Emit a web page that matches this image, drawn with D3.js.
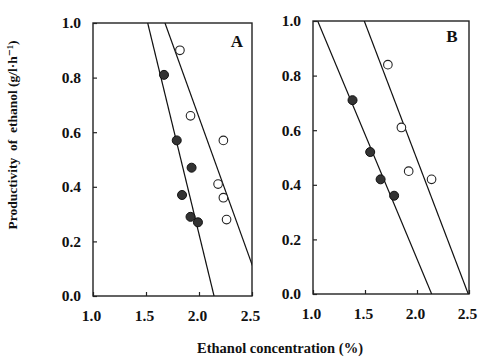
<!DOCTYPE html>
<html>
<head>
<meta charset="utf-8">
<script src="https://cdn.jsdelivr.net/npm/d3@7"></script>
<style>
  body { margin: 0; background: #fff; }
  svg { display: block; }
  text { font-family: "Liberation Serif", "DejaVu Serif", serif; font-weight: bold; fill: #111; }
</style>
</head>
<body>
<div id="chart"></div>
<script>
// tick labels
const xTicks = [1.0, 1.5, 2.0, 2.5];
const yTicks = [0.0, 0.2, 0.4, 0.6, 0.8, 1.0];

// panel A
const aFilledX = [1.67, 1.79, 1.93, 1.84, 1.92, 1.99];
const aFilledY = [0.81, 0.57, 0.47, 0.37, 0.29, 0.27];
const aOpenX = [1.82, 1.92, 2.23, 2.18, 2.23, 2.26];
const aOpenY = [0.90, 0.66, 0.57, 0.41, 0.36, 0.28];
// fitted lines, [x at y=1, x at y=0]
const aFilledLine = [1.516, 2.142];
const aOpenLine = [1.679, 2.607];

// panel B
const bFilledX = [1.38, 1.55, 1.65, 1.78];
const bFilledY = [0.71, 0.52, 0.42, 0.36];
const bOpenX = [1.72, 1.85, 1.92, 2.14];
const bOpenY = [0.84, 0.61, 0.45, 0.42];
const bFilledLine = [1.045, 2.141];
const bOpenLine = [1.493, 2.493];

const width = 485, height = 362;

const svg = d3.select("#chart").append("svg")
    .attr("width", width)
    .attr("height", height);

const panels = [
  { id: "A", left: 93, right: 252, top: 23, bottom: 296,
    filledX: aFilledX, filledY: aFilledY, openX: aOpenX, openY: aOpenY,
    lines: [aFilledLine, aOpenLine], label: [237, 43] },
  { id: "B", left: 313, right: 469, top: 21, bottom: 294,
    filledX: bFilledX, filledY: bFilledY, openX: bOpenX, openY: bOpenY,
    lines: [bFilledLine, bOpenLine], label: [452, 38] }
];

panels.forEach(p => {
  const x = d3.scaleLinear().domain([1.0, 2.5]).range([p.left, p.right]);
  const y = d3.scaleLinear().domain([0, 1]).range([p.bottom, p.top]);

  const g = svg.append("g").attr("id", "panel-" + p.id);

  g.append("clipPath").attr("id", "clip-" + p.id)
    .append("rect")
      .attr("x", p.left).attr("y", p.top)
      .attr("width", p.right - p.left).attr("height", p.bottom - p.top);

  // axes, ticks inward
  const xAxis = g.append("g")
      .attr("transform", `translate(0,${p.bottom})`)
      .call(d3.axisBottom(x).tickValues(xTicks).tickFormat(d3.format(".1f"))
        .tickSizeInner(-4).tickSizeOuter(0).tickPadding(12));
  const yAxis = g.append("g")
      .attr("transform", `translate(${p.left},0)`)
      .call(d3.axisLeft(y).tickValues(yTicks).tickFormat(d3.format(".1f"))
        .tickSizeInner(-4).tickSizeOuter(0).tickPadding(12));

  [xAxis, yAxis].forEach(a => {
    a.select(".domain").remove();
    a.selectAll("line").attr("stroke", "#222").attr("stroke-width", 1.2);
    a.selectAll("text").style("font-size", "15.5px")
      .style("font-family", "'Liberation Serif', serif").style("font-weight", "bold")
      .attr("fill", "#111");
  });
  xAxis.selectAll("text").attr("dy", "0.85em").attr("dx", "-2");

  // frame
  g.append("rect")
      .attr("x", p.left).attr("y", p.top)
      .attr("width", p.right - p.left).attr("height", p.bottom - p.top)
      .attr("fill", "none")
      .attr("stroke", "#222")
      .attr("stroke-width", 1.4);

  // regression lines
  g.append("g").attr("clip-path", `url(#clip-${p.id})`)
    .selectAll("line")
    .data(p.lines)
    .enter()
    .append("line")
      .attr("x1", d => x(d[0])).attr("y1", y(1))
      .attr("x2", d => x(d[1])).attr("y2", y(0))
      .attr("stroke", "#111")
      .attr("stroke-width", 1.2);

  // open circles
  g.append("g")
    .selectAll("circle")
    .data(p.openX.map((v, i) => [v, p.openY[i]]))
    .enter()
    .append("circle")
      .attr("cx", d => x(d[0])).attr("cy", d => y(d[1]))
      .attr("r", 4.3)
      .attr("fill", "#fff")
      .attr("stroke", "#222")
      .attr("stroke-width", 1.1);

  // filled circles
  g.append("g")
    .selectAll("circle")
    .data(p.filledX.map((v, i) => [v, p.filledY[i]]))
    .enter()
    .append("circle")
      .attr("cx", d => x(d[0])).attr("cy", d => y(d[1]))
      .attr("r", 4.5)
      .attr("fill", "#333")
      .attr("stroke", "#111")
      .attr("stroke-width", 1);

  g.append("text")
      .attr("x", p.label[0]).attr("y", p.label[1])
      .attr("text-anchor", "middle")
      .attr("dominant-baseline", "middle")
      .style("font-size", "17px")
      .text(p.id);
});

// axis titles
svg.append("text")
    .attr("transform", "translate(14,135) rotate(-90)")
    .attr("text-anchor", "middle")
    .attr("dominant-baseline", "middle")
    .style("font-size", "13.5px")
    .style("white-space", "pre")
    .text("Productivity  of  ethanol (g/l·h⁻¹)");

svg.append("text")
    .attr("x", 280).attr("y", 350)
    .attr("text-anchor", "middle")
    .attr("dominant-baseline", "middle")
    .style("font-size", "14.5px")
    .text("Ethanol concentration (%)");
</script>
</body>
</html>
